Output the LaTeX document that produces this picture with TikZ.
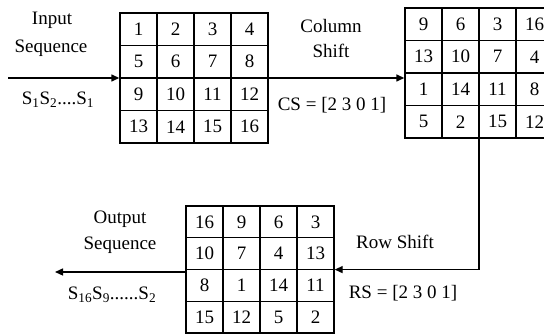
\documentclass[tikz,border=0pt]{standalone}
\usepackage{fontspec}
\setmainfont{Liberation Serif}
\usetikzlibrary{matrix,arrows.meta}
\tikzset{
  cell/.style={draw, line width=1.4pt, minimum width=37pt, minimum height=32.5pt,
    inner sep=0pt, outer sep=0pt, anchor=center},
  grid/.style={matrix of nodes, nodes={cell}, column sep=-1.4pt, row sep=-1.4pt,
    inner sep=0pt, outer sep=0pt},
  flow/.style={line width=1.4pt, -{Triangle[length=8pt,width=7pt]}},
  lbl/.style={inner sep=0pt},
}
\begin{document}
\begin{tikzpicture}[x=1pt, y=-1pt, font=\fontsize{19}{21}\selectfont]
\useasboundingbox (0,0) rectangle (544,336);
\clip (0,0) rectangle (544,336);

% input block
\matrix (g1) [grid, anchor=north west] at (119.3,12.3) {
  1 & 2 & 3 & 4 \\
  5 & 6 & 7 & 8 \\
  9 & 10 & 11 & 12 \\
  13 & 14 & 15 & 16 \\
};

% after column shift
\matrix (g2) [grid, anchor=north west] at (404.3,7.3) {
  9 & 6 & 3 & 16 \\
  13 & 10 & 7 & 4 \\
  1 & 14 & 11 & 8 \\
  5 & 2 & 15 & 12 \\
};

% after row shift
\matrix (g3) [grid, anchor=north west, nodes={minimum height=31.8pt}] at (185.3,205.3) {
  16 & 9 & 6 & 3 \\
  10 & 7 & 4 & 13 \\
  8 & 1 & 14 & 11 \\
  15 & 12 & 5 & 2 \\
};

\coordinate (src) at (8,78);
\coordinate (dst) at (55,272);

% connectors
\draw[flow] (src) -- (g1.west |- src);
\draw[flow] (g1.east |- src) -- (g2.west |- src);
\draw[flow] (g2.south) |- (g3.east);
\draw[flow] (g3.west |- dst) -- (dst);

% labels
\node[lbl] (inA) at (52,20) {Input};
\node[lbl] (inB) at (51,48) {Sequence};
\node[lbl] (inC) at (58,100) {S\textsubscript{1}S\textsubscript{2}....S\textsubscript{1}};

\node[lbl] (csA) at (331,26) {Column};
\node[lbl] (csB) at (331,51) {Shift};
\node[lbl] (csC) at (332,105) {CS = [2 3 0 1]};

\node[lbl] (outA) at (120,219) {Output};
\node[lbl] (outB) at (120,245) {Sequence};
\node[lbl] (outC) at (112,295) {S\textsubscript{16}S\textsubscript{9}......S\textsubscript{2}};

\node[lbl] (rsA) at (395,242) {Row Shift};
\node[lbl] (rsC) at (403,293) {RS = [2 3 0 1]};
\end{tikzpicture}
\end{document}
